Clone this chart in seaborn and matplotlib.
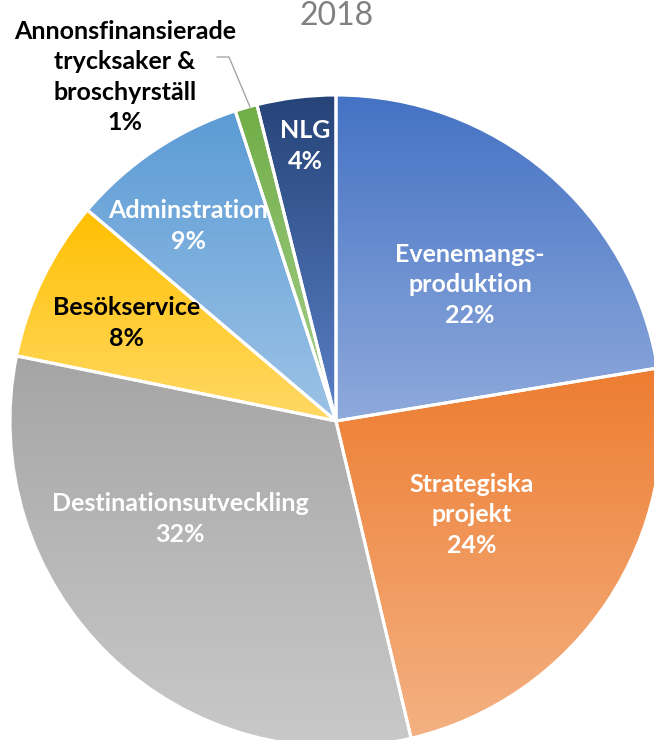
import matplotlib
matplotlib.use("Agg")
import matplotlib.pyplot as plt
import seaborn as sns
import numpy as np

# data (shares, labels show rounded values)
categories = ["Evenemangs-\nproduktion", "Strategiska\nprojekt", "Destinationsutveckling",
              "Besökservice", "Adminstration", "Annonsfinansierade\ntrycksaker &\nbroschyrställ", "NLG"]
values = [22.4, 23.9, 31.9, 8.0, 8.8, 1.1, 3.9]
title = "2018"

# gradient colours per slice (top -> bottom)
top_colors = ["#4472C4", "#ED7D31", "#A5A5A5", "#FFC000", "#5B9BD5", "#70AD47", "#264478"]
bottom_colors = ["#8FAADC", "#F4B183", "#C9C9C9", "#FFD966", "#9DC3E6", "#A9D18E", "#5B80C8"]
label_colors = ["white", "white", "white", "black", "white", "black", "white"]

# label centres in pixel coords (x, y from top)
label_pos = [(470, 285), (472, 515), (180, 519), (127, 323), (188, 226), (125, 77), (305, 146)]

W, H = 654, 740
cx, cy, R = 336, 421, 326

sns.set_theme(style="white")
plt.rcParams['font.family'] = ['Lato', 'DejaVu Sans']

fig = plt.figure(figsize=(W / 100, H / 100), dpi=100)
ax = fig.add_axes([0, 0, 1, 1])

wedges, _ = ax.pie(values, startangle=90, counterclock=False, center=(cx, H - cy), radius=R,
                   wedgeprops=dict(edgecolor="white", linewidth=2.2))

grad = np.linspace(0, 1, 256).reshape(-1, 1)
for w, c0, c1 in zip(wedges, top_colors, bottom_colors):
    cmap = sns.blend_palette([c0, c1], as_cmap=True)
    ext = w.get_path().get_extents()
    im = ax.imshow(grad, cmap=cmap, extent=(ext.x0, ext.x1, ext.y0, ext.y1), origin="upper",
                   aspect="auto", interpolation="bilinear", zorder=w.get_zorder() - 0.1)
    im.set_clip_path(w)
    w.set_facecolor("none")

for name, v, (x, y), col in zip(categories, values, label_pos, label_colors):
    ax.text(x, H - y, f"{name}\n{v:.0f}%", ha="center", va="center", multialignment="center",
            color=col, fontsize=18, fontweight="bold", linespacing=1.4, zorder=5)

# leader line for the small slice
ax.plot([217, 229, 250], [H - 57, H - 57, H - 107], color="#A6A6A6", lw=1, zorder=5)

ax.text(337, H - 16, title, ha="center", va="center", color="#808080", fontsize=23, zorder=5)

ax.set_xlim(0, W)
ax.set_ylim(0, H)
ax.set_aspect("equal")
ax.axis("off")

fig.savefig("out.png", dpi=100)
